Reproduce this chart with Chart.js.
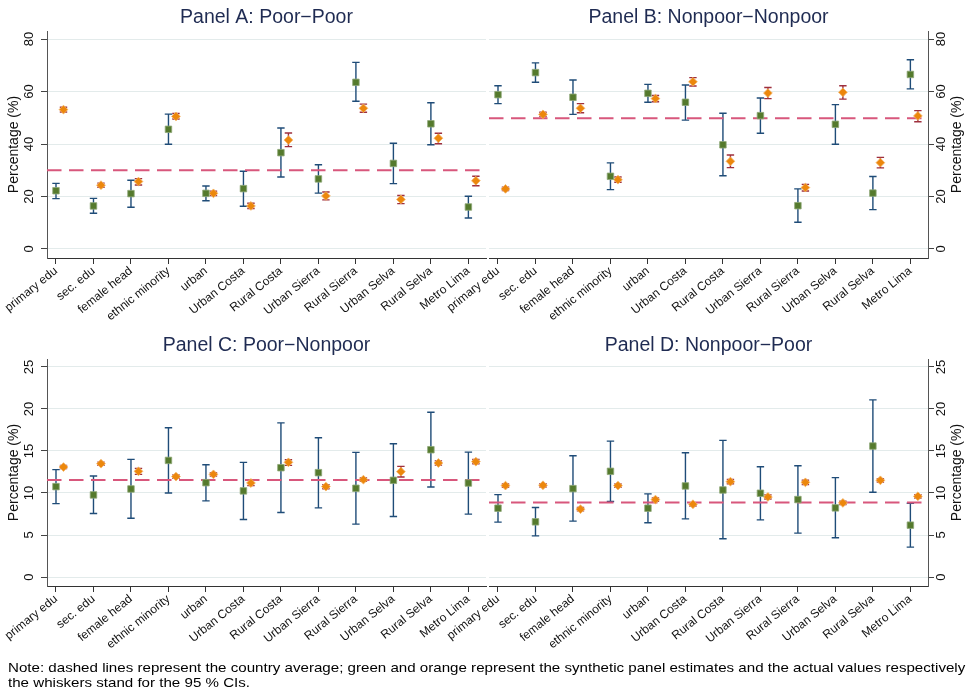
<!DOCTYPE html>
<html>
<head>
<meta charset="utf-8">
<script src="https://cdn.jsdelivr.net/npm/chart.js@4.4.1/dist/chart.umd.min.js"></script>
<style>
  body { margin: 0; background: #fff; }
  #wrap { position: relative; width: 966px; height: 694px; overflow: hidden; background: #fff; }
  #wrap canvas { position: absolute; left: 0; }
  .note { position: absolute; left: 8px; top: 660px; font: 13px "Liberation Sans", Arial, sans-serif;
          line-height: 15px; color: #000; white-space: nowrap; transform-origin: 0 0; }
</style>
</head>
<body>
<div id="wrap">
  <canvas id="panelA" width="966" height="360" style="top:0"></canvas>
  <canvas id="panelB" width="966" height="360" style="top:0"></canvas>
  <canvas id="panelC" width="966" height="364" style="top:330px"></canvas>
  <canvas id="panelD" width="966" height="364" style="top:330px"></canvas>
  <div class="note" id="note">
    <div>Note: dashed lines represent the country average; green and orange represent the synthetic panel estimates and the actual values respectively</div>
    <div>the whiskers stand for the 95 % CIs.</div>
  </div>
</div>
<script>
// Categories shared by all four panels
const categories = ['primary edu', 'sec. edu', 'female head', 'ethnic minority', 'urban',
  'Urban Costa', 'Rural Costa', 'Urban Sierra', 'Rural Sierra', 'Urban Selva', 'Rural Selva', 'Metro Lima'];

const yTicksTop = [0, 20, 40, 60, 80];
const yTicksBottom = [0, 5, 10, 15, 20, 25];

// Panel A: Poor-Poor
const estA   = [22.2, 16.4, 21.1, 45.6, 21.2, 23.0, 36.7, 26.7, 63.5, 32.6, 47.7, 16.0];
const estLoA = [19.2, 13.6, 15.9, 39.9, 18.4, 16.3, 27.4, 21.3, 56.3, 24.9, 39.7, 11.8];
const estHiA = [25.0, 19.3, 26.2, 51.4, 24.0, 29.6, 46.1, 32.1, 71.1, 40.3, 55.7, 20.1];
const actA   = [53.1, 24.3, 25.7, 50.5, 21.2, 16.4, 41.5, 20.2, 53.6, 18.9, 42.2, 26.0];
const actLoA = [52.2, 23.5, 24.4, 49.5, 20.4, 15.4, 39.0, 18.7, 52.1, 17.3, 40.1, 24.1];
const actHiA = [54.0, 25.1, 26.8, 51.6, 22.0, 17.4, 44.2, 21.7, 55.2, 20.4, 44.1, 27.7];
const avgA = 30.0;

// Panel B: Nonpoor-Nonpoor
const estB   = [58.8, 67.2, 57.8, 27.7, 59.3, 55.9, 39.7, 50.8, 16.5, 47.5, 21.3, 66.5];
const estLoB = [55.4, 63.5, 51.3, 22.6, 55.9, 49.1, 27.9, 44.1, 10.2, 39.9, 15.0, 61.0];
const estHiB = [62.2, 70.9, 64.4, 32.8, 62.7, 62.5, 51.7, 57.5, 22.9, 55.0, 27.6, 72.1];
const actB   = [22.9, 51.3, 53.6, 26.4, 57.3, 63.7, 33.4, 59.4, 23.4, 59.7, 32.9, 50.7];
const actLoB = [22.3, 50.5, 51.9, 25.4, 56.1, 62.1, 31.0, 57.3, 22.1, 57.1, 30.9, 48.5];
const actHiB = [23.5, 52.1, 55.4, 27.4, 58.5, 65.3, 35.8, 61.5, 24.6, 62.2, 34.9, 52.7];
const avgB = 49.8;

// Panel C: Poor-Nonpoor
const estC   = [10.76, 9.77, 10.48, 13.88, 11.23, 10.25, 13.01, 12.42, 10.56, 11.51, 15.15, 11.19];
const estLoC = [8.74, 7.56, 7.00, 10.00, 9.06, 6.84, 7.67, 8.23, 6.29, 7.20, 10.72, 7.48];
const estHiC = [12.78, 12.03, 14.00, 17.76, 13.37, 13.65, 18.35, 16.57, 14.83, 15.86, 19.62, 14.87];
const actC   = [13.09, 13.49, 12.58, 11.95, 12.22, 11.19, 13.65, 10.76, 11.59, 12.54, 13.57, 13.73];
const actLoC = [12.90, 13.30, 12.22, 11.75, 12.02, 10.88, 13.29, 10.50, 11.40, 11.90, 13.32, 13.48];
const actHiC = [13.28, 13.68, 12.93, 12.15, 12.42, 11.50, 13.96, 11.00, 11.78, 13.17, 13.82, 13.98];
const avgC = 11.55;

// Panel D: Nonpoor-Poor
const estD   = [8.19, 6.57, 10.52, 12.58, 8.19, 10.84, 10.36, 9.97, 9.22, 8.23, 15.59, 6.17];
const estLoD = [6.53, 4.90, 6.65, 8.98, 6.45, 6.92, 4.55, 6.80, 5.22, 4.67, 10.09, 3.56];
const estHiD = [9.81, 8.27, 14.44, 16.18, 9.89, 14.79, 16.26, 13.13, 13.25, 11.83, 21.08, 8.78];
const actD   = [10.88, 10.92, 8.07, 10.88, 9.22, 8.66, 11.35, 9.53, 11.27, 8.82, 11.51, 9.61];
const actLoD = [10.68, 10.72, 7.87, 10.68, 9.02, 8.46, 11.10, 9.28, 11.02, 8.62, 11.31, 9.41];
const actHiD = [11.08, 11.12, 8.27, 11.08, 9.42, 8.86, 11.60, 9.78, 11.52, 9.02, 11.71, 9.81];
const avgD = 8.86;

const FONT = '"Liberation Sans", Arial, Helvetica, sans-serif';
const X_MIN = 0.76, X_MAX = 12.47;
const ACT_SHIFT = 0.2;
Chart.defaults.font.family = FONT;

function makePanel(cfg) {
    const isLeft = cfg.side === 'left';

    // whiskers under the markers, plus panel title and right-hand axis title
    const extras = {
        id: 'extras',
        beforeDatasetsDraw(chart) {
            const { ctx, scales: { x, y } } = chart;
            ctx.save();
            ctx.lineWidth = 1.4;
            const whisk = (lo, hi, off, color) => {
                ctx.strokeStyle = color;
                lo.forEach((l, i) => {
                    const px = x.getPixelForValue(i + 1 + off);
                    const p1 = y.getPixelForValue(l);
                    const p2 = y.getPixelForValue(hi[i]);
                    ctx.beginPath();
                    ctx.moveTo(px, p1); ctx.lineTo(px, p2);
                    ctx.moveTo(px - 3.7, p1); ctx.lineTo(px + 3.7, p1);
                    ctx.moveTo(px - 3.7, p2); ctx.lineTo(px + 3.7, p2);
                    ctx.stroke();
                });
            };
            whisk(cfg.estLo, cfg.estHi, 0, '#1f4c78');
            whisk(cfg.actLo, cfg.actHi, ACT_SHIFT, '#9e2f3e');
            ctx.restore();
        },
        afterDraw(chart) {
            const { ctx, chartArea: ca } = chart;
            ctx.save();
            ctx.fillStyle = '#1f2b52';
            ctx.font = '19.5px ' + FONT;
            ctx.textAlign = 'center';
            ctx.textBaseline = 'alphabetic';
            ctx.fillText(cfg.title, (ca.left + ca.right) / 2, ca.top - 8.5);
            if (!isLeft) {
                ctx.fillStyle = '#111';
                ctx.font = '14px ' + FONT;
                ctx.textBaseline = 'middle';
                ctx.translate(ca.right + 29, (ca.top + ca.bottom) / 2);
                ctx.rotate(-Math.PI / 2);
                ctx.fillText('Percentage (%)', 0, 0);
            }
            ctx.restore();
        }
    };

    return new Chart(document.getElementById(cfg.id), {
        type: 'scatter',
        data: {
            datasets: [
                {
                    label: 'synthetic',
                    data: cfg.est.map((v, i) => ({ x: i + 1, y: v })),
                    pointStyle: 'rect',
                    pointRadius: 4.6,
                    backgroundColor: '#557a2d',
                    borderColor: '#8ea777',
                    borderWidth: 0.8
                },
                {
                    label: 'actual',
                    data: cfg.act.map((v, i) => ({ x: i + 1 + ACT_SHIFT, y: v })),
                    pointStyle: 'rectRot',
                    pointRadius: 4.4,
                    backgroundColor: '#ec870c',
                    borderColor: '#f4b569',
                    borderWidth: 0.8
                },
                {
                    type: 'line',
                    label: 'average',
                    data: [{ x: X_MIN, y: cfg.avg }, { x: X_MAX, y: cfg.avg }],
                    borderColor: '#d8577c',
                    borderWidth: 2,
                    borderDash: [14.5, 7.5],
                    pointRadius: 0,
                    fill: false
                }
            ]
        },
        options: {
            responsive: false,
            animation: false,
            events: [],
            devicePixelRatio: 1,
            layout: {
                padding: isLeft
                    ? { left: 0, right: 480, top: cfg.padTop, bottom: cfg.padBottom }
                    : { left: 489, right: 0, top: cfg.padTop, bottom: cfg.padBottom }
            },
            plugins: {
                legend: { display: false },
                tooltip: { enabled: false },
                title: { display: false }
            },
            scales: {
                x: {
                    type: 'linear',
                    min: X_MIN,
                    max: X_MAX,
                    afterBuildTicks: s => { s.ticks = categories.map((c, i) => ({ value: i + 1 })); },
                    afterFit: s => { s.height = cfg.xHeight; s.paddingLeft = 0; s.paddingRight = 0; },
                    grid: { drawOnChartArea: false, tickColor: '#333', tickLength: 6 },
                    border: { color: '#333', width: 1 },
                    ticks: {
                        autoSkip: false,
                        minRotation: 39,
                        maxRotation: 39,
                        padding: 0,
                        color: '#111',
                        font: { size: 12 },
                        callback: v => categories[Math.round(v) - 1] || ''
                    }
                },
                y: {
                    position: cfg.side,
                    min: cfg.yMin,
                    max: cfg.yMax,
                    afterBuildTicks: s => { s.ticks = cfg.yTicks.map(v => ({ value: v })); },
                    afterFit: s => { s.width = isLeft ? 47 : 38; },
                    grid: { color: '#e3ebeb', tickColor: '#444', tickLength: 6, lineWidth: 1 },
                    border: { color: '#555', width: 1 },
                    ticks: {
                        minRotation: 90,
                        maxRotation: 90,
                        crossAlign: 'center',
                        padding: isLeft ? 4 : 0,
                        color: '#111',
                        font: { size: 13 }
                    },
                    title: {
                        display: isLeft,
                        text: 'Percentage (%)',
                        color: '#111',
                        font: { size: 14 },
                        padding: { top: 5.6, bottom: 0 }
                    }
                }
            }
        },
        plugins: [extras]
    });
}

makePanel({ id: 'panelA', title: 'Panel A: Poor\u2212Poor', side: 'left',
    est: estA, estLo: estLoA, estHi: estHiA, act: actA, actLo: actLoA, actHi: actHiA, avg: avgA,
    yMin: -3.43, yMax: 83.05, yTicks: yTicksTop, padTop: 31, padBottom: 30, xHeight: 72 });
makePanel({ id: 'panelB', title: 'Panel B: Nonpoor\u2212Nonpoor', side: 'right',
    est: estB, estLo: estLoB, estHi: estHiB, act: actB, actLo: actLoB, actHi: actHiB, avg: avgB,
    yMin: -3.43, yMax: 83.05, yTicks: yTicksTop, padTop: 31, padBottom: 30, xHeight: 72 });
makePanel({ id: 'panelC', title: 'Panel C: Poor\u2212Nonpoor', side: 'left',
    est: estC, estLo: estLoC, estHi: estHiC, act: actC, actLo: actLoC, actHi: actHiC, avg: avgC,
    yMin: -1.07, yMax: 25.95, yTicks: yTicksBottom, padTop: 29, padBottom: 34, xHeight: 74 });
makePanel({ id: 'panelD', title: 'Panel D: Nonpoor\u2212Poor', side: 'right',
    est: estD, estLo: estLoD, estHi: estHiD, act: actD, actLo: actLoD, actHi: actHiD, avg: avgD,
    yMin: -1.07, yMax: 25.95, yTicks: yTicksBottom, padTop: 29, padBottom: 34, xHeight: 74 });

// stretch the note so its first line spans the width as in the original
const note = document.getElementById('note');
const w = note.firstElementChild.getBoundingClientRect().width;
note.style.transform = 'scaleX(' + (957 / w).toFixed(3) + ')';
</script>
</body>
</html>
